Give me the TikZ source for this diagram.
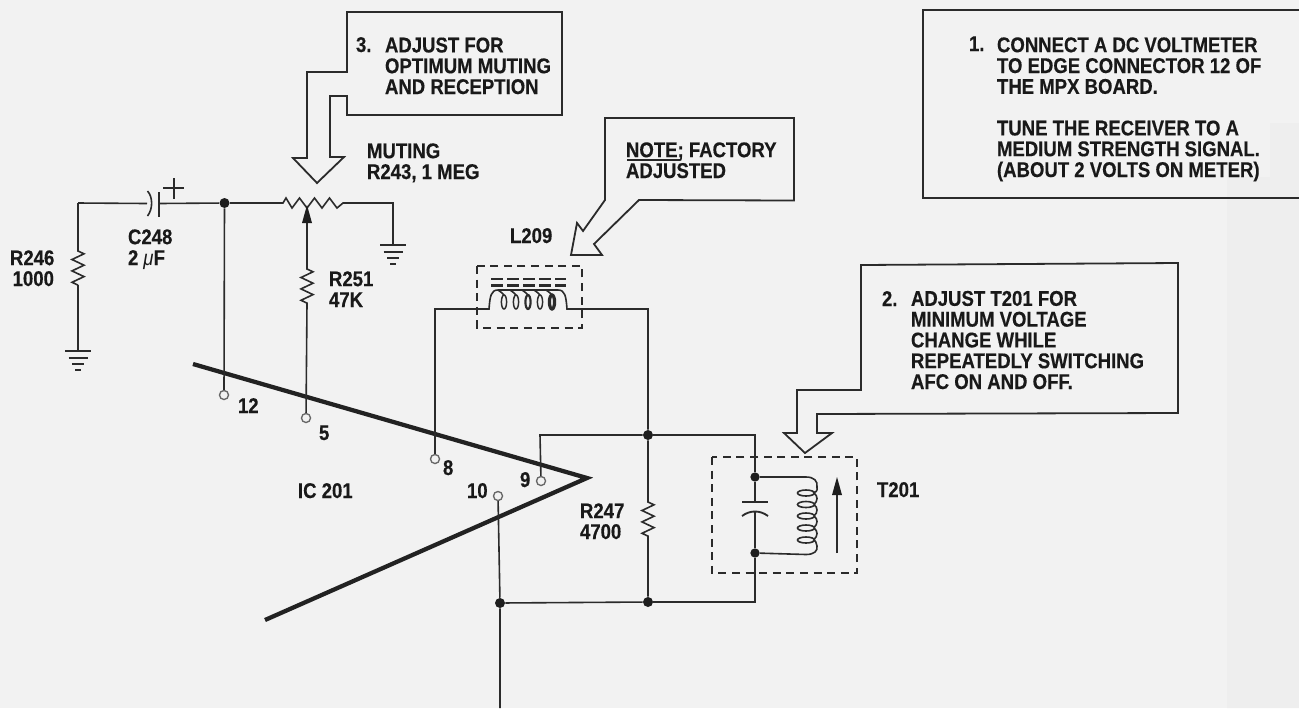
\documentclass[tikz,border=0pt]{standalone}
\usepackage{fontspec}
\setmainfont[FakeStretch=0.87,BoldFeatures={FakeBold=0.35}]{Liberation Sans}
\usetikzlibrary{arrows.meta}
\definecolor{paper}{HTML}{F2F2F2}
\definecolor{strip}{HTML}{EEEEEE}
\definecolor{ink}{HTML}{2B2B2B}
\tikzset{
  wire/.style={draw=ink,line width=1.2pt,line join=miter},
  amp/.style={draw=ink!80!black,line width=3.2pt,line cap=butt,line join=miter},
  callout/.style={draw=ink,line width=1.35pt,line join=miter},
  dashbox/.style={draw=ink,line width=1.3pt,dash pattern=on 6pt off 4.2pt},
  dot/.style={circle,fill=ink!70!black,draw=none,minimum size=7.5pt,inner sep=0pt},
  smalldot/.style={circle,fill=ink!70!black,draw=none,minimum size=7pt,inner sep=0pt},
  pin/.style={circle,draw=black!60,fill=paper,line width=1pt,minimum size=6.8pt,inner sep=0pt},
  lbl/.style={anchor=base west,inner sep=0pt,outer sep=0pt,text=black!90,align=left,
    font=\fontsize{16}{15.6}\selectfont\bfseries},
}
% zigzags, written as path pieces
\newcommand{\vzig}{-- ++(6,2.8) -- ++(-12,5.7) -- ++(12,5.7) -- ++(-12,5.7) -- ++(12,5.7) -- ++(-12,5.7) -- ++(6,2.8)}
\newcommand{\hzig}{-- ++(3,-5) -- ++(6,10) -- ++(7.5,-10) -- ++(7.5,10) -- ++(7.5,-10) -- ++(7.5,10) -- ++(7.5,-10) -- ++(7.5,10) -- ++(6,-5)}
\begin{document}
\begin{tikzpicture}[x=0.75pt,y=-0.75pt]
\useasboundingbox (0,0) rectangle (1299,708);
\fill[paper] (0,0) rectangle (1299,708);
\fill[strip] (1270,123) -- (1299,123) -- (1299,708) -- (1227,708) -- (1227,177) -- (1270,177) -- cycle;

% junctions and free ends
\node[dot] (j1) at (224.5,203) {};
\node[dot] (j2) at (648,435) {};
\node[dot] (j3) at (648,602) {};
\node[dot] (j4) at (500,603) {};
\node[smalldot] (j5) at (755,477) {};
\node[smalldot] (j6) at (755,553) {};
\coordinate (gndA) at (78,351);
\coordinate (gndB) at (393,245);
\coordinate (bottom) at (500,708);
\coordinate (tip) at (587,478);

% IC outline
\draw[amp] (193,364) -- (tip) -- (265,620);

% pins
\node[pin] (p12) at (224,395) {};
\node[pin] (p5) at (306,418) {};
\node[pin] (p8) at (435,459) {};
\node[pin] (p9) at (541,481) {};
\node[pin] (p10) at (498,496) {};

% left branch with R246 and C248
\draw[wire] (gndA) -- (78,285) ;
\draw[wire] (78,203) -- (78,251) \vzig;
\draw[wire] (147,203.5) -- (78,203) ;
\draw[wire] (147.5,191) .. controls (153,197) and (153,209) .. (147.5,216);
\draw[wire,line width=1.4pt] (159,192) -- (159,216.5);
\draw[wire] (159,203.5) -- (j1);
\draw[wire,line width=1.6pt] (163,188) -- (184,188) (174,178) -- (174,199);
\draw[wire] (j1) -- (p12);

% ground symbols
\foreach \g in {gndA,gndB}{
  \draw[wire,line width=1.4pt] ([shift={(-13,0)}]\g) -- ([shift={(13,0)}]\g);
  \draw[wire,line width=1.4pt] ([shift={(-9.5,7)}]\g) -- ([shift={(9.5,7)}]\g);
  \draw[wire,line width=1.4pt] ([shift={(-6,13)}]\g) -- ([shift={(6,13)}]\g);
  \draw[wire,line width=1.4pt] ([shift={(-3,19)}]\g) -- ([shift={(3,19)}]\g);
}

% pot R243
\draw[wire] (j1) -- (283,203) \hzig -- (393,203) -- (gndB);
% wiper and R251
\draw[wire] (307,223) -- (307,269) \vzig -- (p5);
\fill[ink!70!black] (307,205) -- (312,223) -- (302,223) -- cycle;

% L209
\draw[wire] (p8) -- (435,309) -- (489,309) .. controls (490,296) and (491,290) .. (498,290)
   -- (558,290) .. controls (565,290) and (566,296) .. (567,309) -- (648,309) -- (j2);
\foreach \x/\t in {504/1.1,516/1.1,528/1.6,540/1.1,552/2.4}{
  \draw[wire,line width=\t pt] (\x,302) ellipse [x radius=2.6,y radius=7];
  \draw[wire] (\x-6,290) .. controls (\x-4,292) and (\x-2,292) .. (\x,295);
}
\draw[dashbox] (477,266) rectangle (582,328);
\draw[wire,line width=1.6pt,dash pattern=on 9pt off 3pt] (491,279) -- (566,279);
\draw[wire,line width=1.6pt,dash pattern=on 9pt off 3pt] (491,285.5) -- (566,285.5);

% right network
\draw[wire] (p9) -- (540,435) -- (j2);
\draw[wire] (j2) -- (755,435) -- (j5);
\draw[wire] (j2) -- (648,502) \vzig -- (j3);
\draw[wire] (j5) -- (755,502);
\draw[wire,line width=1.5pt] (742,502) -- (768,502);
\draw[wire,line width=1.4pt] (742,516) .. controls (750,510) and (760,510) .. (768,516);
\draw[wire] (755,512) -- (j6);
\draw[wire] (j6) -- (755,602) -- (j3);
\draw[wire] (j3) -- (j4);
\draw[wire] (p10) -- (j4) -- (bottom);

% T201 coil
\draw[wire] (j5) -- (806,477) .. controls (814,477) and (818,481) .. (817,487)
  .. controls (818,491) and (815,493) .. (813,493);
\draw[wire] (j6) -- (806,554.5) .. controls (814,554.5) and (818,551) .. (817,546)
  .. controls (817,543) and (815,540) .. (813,540);
\foreach \y in {493,504.5,516,528,540}{
  \draw[wire] (806,\y) ellipse [x radius=8.5,y radius=3];
}
\foreach \y in {493,504.5,516,528}{
  \draw[wire] (814,\y) .. controls (818,\y+3) and (818,\y+8) .. (814,\y+11.5);
}
\draw[wire,line width=1.5pt] (837,553) -- (837,490);
\fill[ink!70!black] (837,477) -- (842,495) -- (832,495) -- cycle;
\draw[dashbox] (712,457) rectangle (857,573);

% callouts
\draw[callout] (347,72) -- (347,12) -- (562,12) -- (562,115) -- (347,115) -- (347,96) -- (330,96)
  -- (330,157) -- (344,157) -- (317,183) -- (293,158) -- (307,158) -- (307,72) -- cycle;
\draw[callout] (605,200) -- (605,118) -- (794,118) -- (794,200.5) -- (639,200) -- (594,244)
  -- (602,255) -- (571,255) -- (577,223) -- (583,231) -- cycle;
\draw[callout] (861,390) -- (861,265) -- (1178,263) -- (1178,413) -- (817,414) -- (817,433)
  -- (832,433) -- (805,453) -- (784,433) -- (797,433) -- (797,390) -- cycle;
\draw[callout] (1299,10) -- (923,10) -- (923,198) -- (1299,198);

% texts (a multi-line node's base is its last line)
\node[lbl] (n3) at (356,52) {3.};
\node[lbl] (t3) at (385,94) {ADJUST FOR\\OPTIMUM MUTING\\AND RECEPTION};
\node[lbl] (n1) at (969,51) {1.};
\node[lbl] (t1) at (997,177) {CONNECT A DC VOLTMETER\\TO EDGE CONNECTOR 12 OF\\THE MPX BOARD.\\[15.6pt]TUNE THE RECEIVER TO A\\MEDIUM STRENGTH SIGNAL.\\(ABOUT 2 VOLTS ON METER)};
\node[lbl] (n2) at (882,306) {2.};
\node[lbl] (t2) at (911,389) {ADJUST T201 FOR\\MINIMUM VOLTAGE\\CHANGE WHILE\\REPEATEDLY SWITCHING\\AFC ON AND OFF.};
\node[lbl] (note) at (626,178) {NOTE; FACTORY\\ADJUSTED};
\draw[draw=black!85,line width=1.2pt] (627,160) -- (680,160);
\node[lbl] (mut) at (367,179) {MUTING\\R243, 1 MEG};
\node[lbl] (c248) at (128,265) {C248\\2 {\mdseries\itshape μ}F};
\node[lbl] (r246) at (10,286) {R246\\\hspace*{2pt}1000};
\node[lbl] (r251) at (329,307) {R251\\47K};
\node[lbl] (l209) at (510,243) {L209};
\node[lbl] (l12) at (238,413) {12};
\node[lbl] (l5) at (319,440) {5};
\node[lbl] (l8) at (443,475) {8};
\node[lbl] (ic) at (298,498) {IC 201};
\node[lbl] (l10) at (467,498) {10};
\node[lbl] (l9) at (520,487) {9};
\node[lbl] (r247) at (580,539) {R247\\4700};
\node[lbl] (t201) at (877,497) {T201};
\end{tikzpicture}
\end{document}
